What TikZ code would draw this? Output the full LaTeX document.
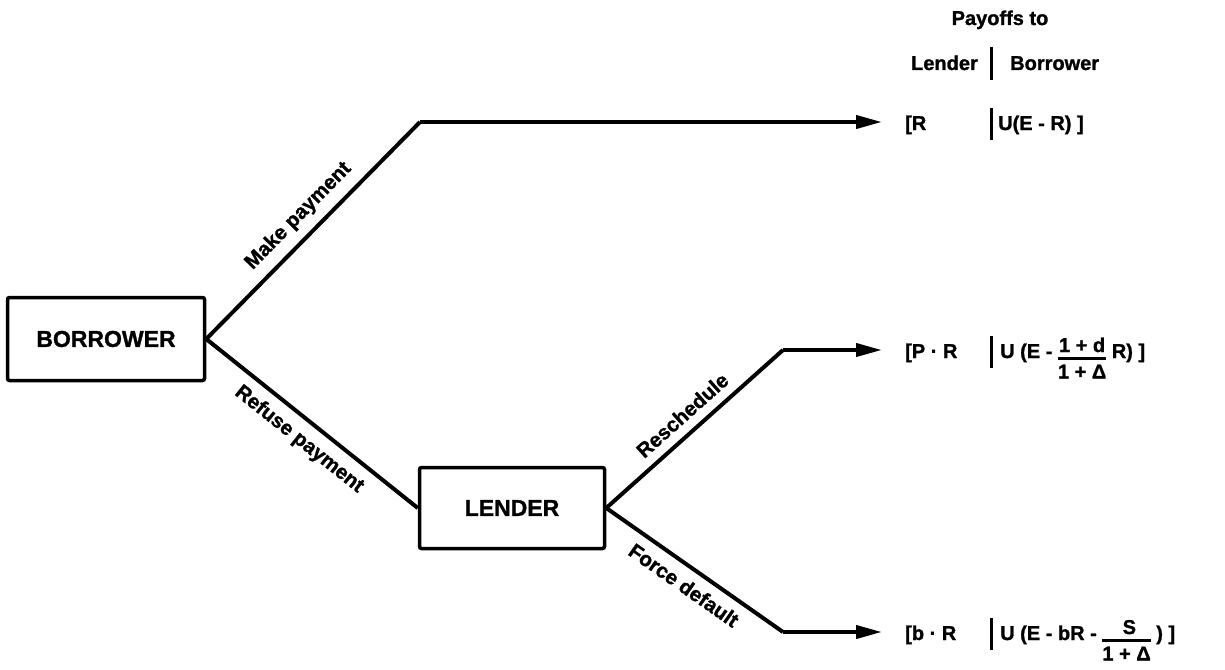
\documentclass[tikz,border=0pt]{standalone}
\usepackage{fontspec}
\setmainfont{Liberation Sans}[BoldFeatures={FakeBold=1.2}]
\usetikzlibrary{arrows.meta}
\newcommand{\myfrac}[2]{\begin{tabular}[t]{@{}c@{}}#1\\[-2pt]\noalign{\global\arrayrulewidth=2.5pt}\hline\noalign{\vskip2pt}#2\end{tabular}}
\begin{document}
\begin{tikzpicture}[x=1pt,y=-1pt,
  boxnode/.style={draw, line width=3.5pt, rounded corners=2pt, font=\fontsize{23}{27}\selectfont\bfseries, inner sep=0pt},
  conn/.style={line width=4pt},
  arr/.style={line width=4pt, -{Triangle[length=26pt,width=13pt]}},
  lbl/.style={font=\fontsize{20.5}{24}\selectfont\bfseries, sloped, inner sep=9pt},
  pay/.style={font=\fontsize{20}{24}\selectfont\bfseries, inner sep=0pt, anchor=base west},
  barline/.style={line width=3pt}]
\useasboundingbox (0,0) rectangle (1225,669);
\fill[white] (0,0) rectangle (1225,669);
\node[boxnode, minimum width=197pt, minimum height=83pt] (B) at (106,339) {BORROWER};
\node[boxnode, minimum width=185pt, minimum height=81pt] (L) at (512,508) {LENDER};
\coordinate (c1) at (420,122);
\coordinate (a1) at (882,122);
\coordinate (c2) at (783,350);
\coordinate (a2) at (882,350);
\coordinate (c3) at (783,632);
\coordinate (a3) at (882,632);
\draw[conn] (B.east) -- (c1) node[lbl, midway, above] {Make payment};
\draw[arr] (c1) -- (a1);
\draw[conn] (B.east) -- (L.west) node[lbl, midway, below] {Refuse payment};
\draw[conn] (L.east) -- (c2) node[lbl, midway, above] {Reschedule};
\draw[arr] (c2) -- (a2);
\draw[conn] (L.east) -- (c3) node[lbl, midway, below] {Force default};
\draw[arr] (c3) -- (a3);
% header
\node[pay, anchor=base] (h1) at (1000,25) {Payoffs to};
\node[pay, anchor=base east] (h2) at (978,70) {Lender};
\node[pay] (h3) at (1010,70) {Borrower};
\draw[barline] (991,47) -- (991,80);
% row 1
\node[pay] (r1a) at (905,130) {[R};
\draw[barline] (991,108) -- (991,140);
\node[pay] (r1b) at (998,130) {U(E - R) ]};
% row 2
\node[pay] (r2a) at (905,358) {[P · R};
\draw[barline] (991,336) -- (991,368);
\node[pay] (r2b) at (1000,358) {U (E - \raisebox{6pt}{\myfrac{1 + d}{1 + Δ}} R) ]};
% row 3
\node[pay] (r3a) at (905,640) {[b · R};
\draw[barline] (991,618) -- (991,650);
\node[pay] (r3b) at (1000,640) {U (E - bR - \raisebox{6pt}{\myfrac{\ \ \ S\ \ \ }{1 + Δ}} ) ]};
\end{tikzpicture}
\end{document}
